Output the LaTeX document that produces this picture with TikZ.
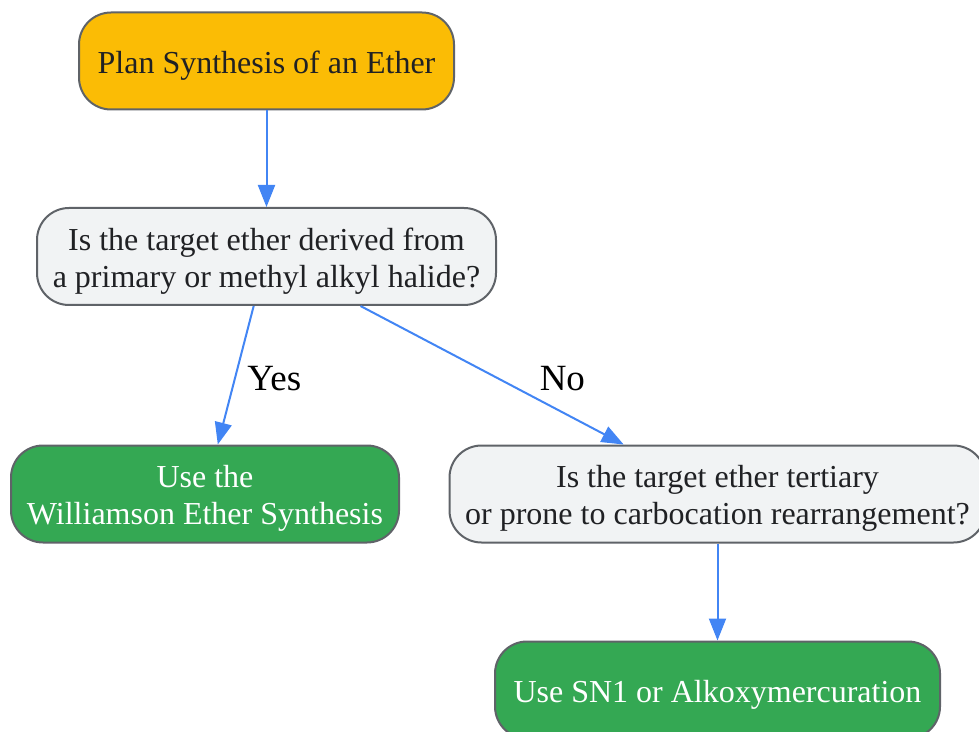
\documentclass[tikz,border=0pt]{standalone}
\usepackage{fontspec}
\setmainfont{Liberation Serif}
\usetikzlibrary{arrows.meta}

\definecolor{startfill}{HTML}{FBBC05}
\definecolor{askfill}{HTML}{F1F3F4}
\definecolor{usefill}{HTML}{34A853}
\definecolor{boxline}{HTML}{5F6368}
\definecolor{flowline}{HTML}{4285F4}
\definecolor{inktext}{HTML}{202124}

\begin{document}
\begin{tikzpicture}[x=0.5pt,y=-0.5pt,>={Triangle[length=11pt,width=8.5pt]},
  box/.style={draw=boxline,line width=1pt,rounded corners=16pt,align=center,
    minimum height=48.5pt,font=\fontsize{16}{18.5}\selectfont,lift},
  lift/.style={execute at begin node=\rule{0pt}{#1}},
  lift/.default=15.5pt,
  startbox/.style={box,fill=startfill,text=inktext},
  askbox/.style={box,fill=askfill,text=inktext},
  usebox/.style={box,fill=usefill,text=white},
  flow/.style={->,draw=flowline,line width=1pt},
  answer/.style={font=\fontsize{18.5}{21}\selectfont,text=black}]

\useasboundingbox (0,0) rectangle (979,732);

% define the boxes
  \node[startbox, minimum width=187.5pt] (plan)  at (266.5,61)  {Plan Synthesis of an Ether};
  \node[askbox, lift=34pt, minimum width=229.5pt] (prim) at (266.5,256.5) {Is the target ether derived from\\a primary or methyl alkyl halide?};
  \node[usebox, lift=33.5pt, minimum width=194pt] (will) at (205,494) {Use the\\Williamson Ether Synthesis};
  \node[askbox, lift=34pt, minimum width=268pt]   (tert) at (717.5,494) {Is the target ether tertiary\\or prone to carbocation rearrangement?};
  \node[usebox, minimum width=222.5pt]   (sn1)   at (717.5,690) {Use SN1 or Alkoxymercuration};

% define the links
  \draw[flow] (plan) -- (prim);
  \draw[flow] (prim) -- node[answer, right, xshift=2pt, yshift=-1.5pt] (yes) {Yes} (will);
  \draw[flow] (prim) -- node[answer, anchor=west, xshift=20pt, yshift=-1.5pt] (no) {No} (tert);
  \draw[flow] (tert) -- (sn1);

\end{tikzpicture}
\end{document}
